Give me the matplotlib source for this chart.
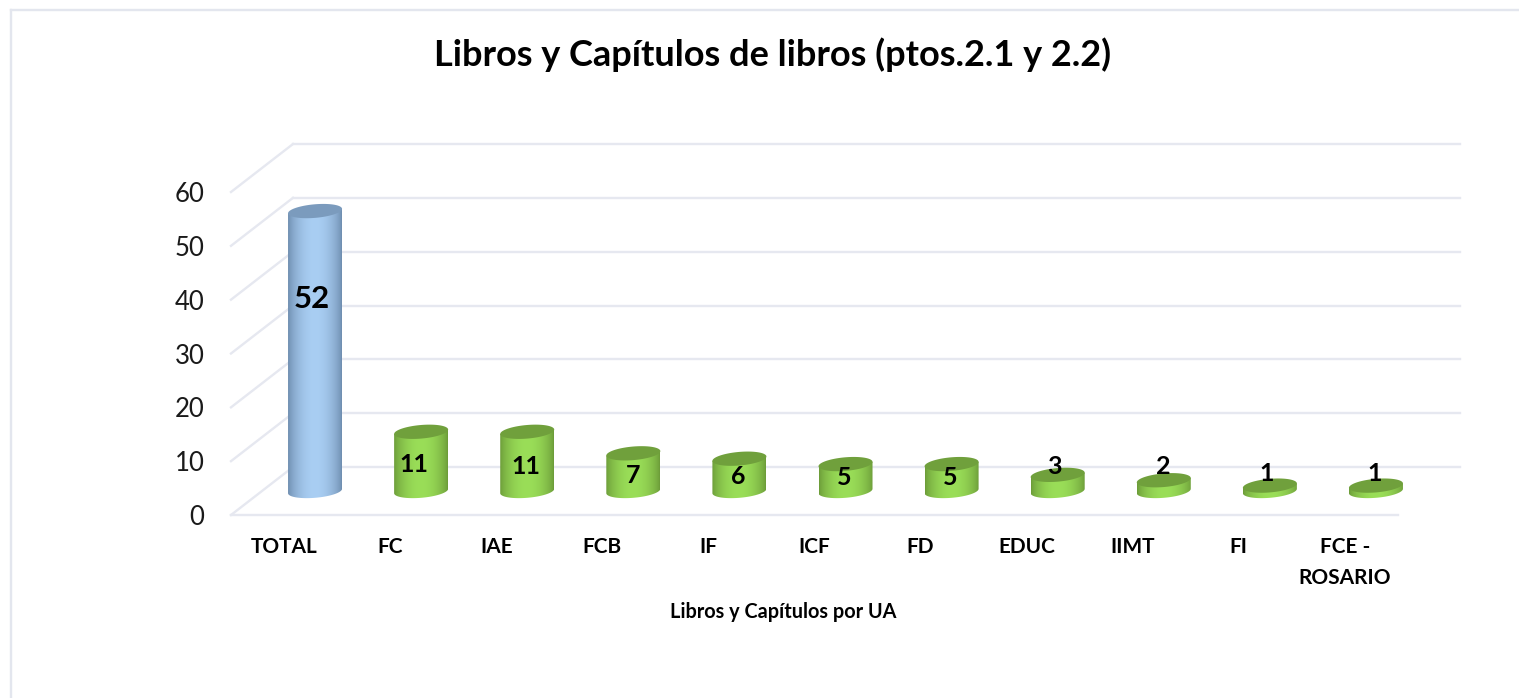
import numpy as np
import matplotlib
matplotlib.use("Agg")
import matplotlib.pyplot as plt
from matplotlib.patches import Polygon

# values
categories = ["TOTAL", "FC", "IAE", "FCB", "IF", "ICF", "FD", "EDUC", "IIMT", "FI", "FCE -\nROSARIO"]
values = [52, 11, 11, 7, 6, 5, 5, 3, 2, 1, 1]
y_ticks = [0, 10, 20, 30, 40, 50, 60]

# label offsets from the bar top, in pixels
label_dx = [-3, -7, -1, 0, -1, -1, -1, -3, -1, -3, -1]
label_dy = [-88, -33, -35, -22, -18, -13, -13, 8, 14, 12, 12]

W, H = 1519, 698
plt.rcParams["font.family"] = ["Lato", "DejaVu Sans"]
fig = plt.figure(figsize=(W / 100, H / 100), dpi=100)

# the axes is the front plane of the 3d box
x0, x1, y_top, y_bot = 231, 1398, 192, 515
ax = fig.add_axes([x0 / W, 1 - y_bot / H, (x1 - x0) / W, (y_bot - y_top) / H])
ax.set_xlim(-0.5, 10.5)
ax.set_ylim(0, 60)
px_x = (x1 - x0) / 11
px_y = (y_bot - y_top) / 60
depth_x = 62 / px_x
depth_y = 48 / px_y
for s in ax.spines.values():
    s.set_visible(False)
ax.patch.set_visible(False)

grid_color = "#e6e8f0"
for v in y_ticks:
    ax.plot([-0.5, -0.5 + depth_x], [v, v + depth_y], color=grid_color, lw=1.7, clip_on=False, zorder=1)
    ax.plot([-0.5 + depth_x, 10.5 + depth_x], [v + depth_y, v + depth_y], color=grid_color, lw=1.7, clip_on=False, zorder=1)
ax.plot([-0.5, 10.5], [0, 0], color=grid_color, lw=1.7, clip_on=False, zorder=1)

ax.set_xticks(range(len(categories)))
ax.set_xticklabels(categories, fontsize=15, fontweight="bold", color="black", linespacing=1.7, va="top")
ax.set_yticks(y_ticks)
ax.set_yticklabels([str(v) for v in y_ticks], fontsize=18.5, color="#1a1a1a")
ax.tick_params(axis="x", length=0, pad=16)
ax.tick_params(axis="y", length=0, pad=19)


def cylinder(i, v, side, mid, top):
    half_w = 27 / px_x
    skew = 2.2 / px_y
    half_h = 6.8 / px_y
    cx = i + depth_x / 2
    cy = depth_y / 2
    t = np.linspace(0, 2 * np.pi, 121)
    ex = half_w * np.cos(t)
    ey = skew * np.cos(t) + half_h * np.sin(t)
    # body outline: lower half of the base ellipse, upper side of the top one
    low = t[60:121]
    bx = cx + half_w * np.cos(low)
    by = cy + skew * np.cos(low) + half_h * np.sin(low)
    body = Polygon(
        np.vstack([np.c_[bx, by], [[cx + half_w, cy + skew + v]], [[cx - half_w, cy - skew + v]]]),
        closed=True, transform=ax.transData, fc="none", ec="none",
    )
    ax.add_patch(body)
    # side shading, dark at the edges and light in the middle
    s = np.linspace(0, 1, 128)
    shade = np.clip(np.sin(np.pi * s) ** 0.7, 0, 1)
    c0 = np.array(matplotlib.colors.to_rgb(side))
    c1 = np.array(matplotlib.colors.to_rgb(mid))
    img = c0 + (c1 - c0) * shade[:, None]
    im = ax.imshow(
        img[None, :, :], extent=[cx - half_w, cx + half_w, cy - 2 * half_h, cy + v + 2 * half_h],
        aspect="auto", zorder=3,
    )
    im.set_clip_path(body)
    # last bar reaches past the front plane, keep it from being cut at the axes edge
    im.set_clip_box(fig.bbox)
    ax.fill(cx + ex, cy + v + ey, color=top, lw=0, zorder=4, clip_on=False)


colors = [("#6d8cae", "#a9cef3", "#7b9bbd")] + [("#6b9a38", "#9ade58", "#70a03c")] * 10
for i, v in enumerate(values):
    cylinder(i, v, *colors[i])
ax.set_xlim(-0.5, 10.5)
ax.set_ylim(0, 60)

for i, v in enumerate(values):
    ax.annotate(
        str(v), (i + depth_x / 2, v + depth_y / 2), xytext=(label_dx[i] * 0.72, label_dy[i] * 0.72),
        textcoords="offset points", ha="center", va="center", fontweight="bold",
        fontsize=22.5 if i == 0 else 18, color="black", zorder=6, annotation_clip=False,
    )

fig.text(773 / W, 1 - 55 / H, "Libros y Capítulos de libros (ptos.2.1 y 2.2)", ha="center", va="center",
         fontsize=26, fontweight="bold", color="black")
fig.text(783 / W, 1 - 612 / H, "Libros y Capítulos por UA", ha="center", va="center",
         fontsize=14.3, fontweight="bold", color="black")

# outer chart frame
frame = "#e3e6ee"
fig.add_artist(plt.Line2D([10.5 / W, 10.5 / W], [0, 1 - 10 / H], color=frame, lw=1.7))
fig.add_artist(plt.Line2D([10.5 / W, 1518 / W], [1 - 10 / H, 1 - 10 / H], color=frame, lw=1.7))

fig.savefig("out.png", dpi=100)
